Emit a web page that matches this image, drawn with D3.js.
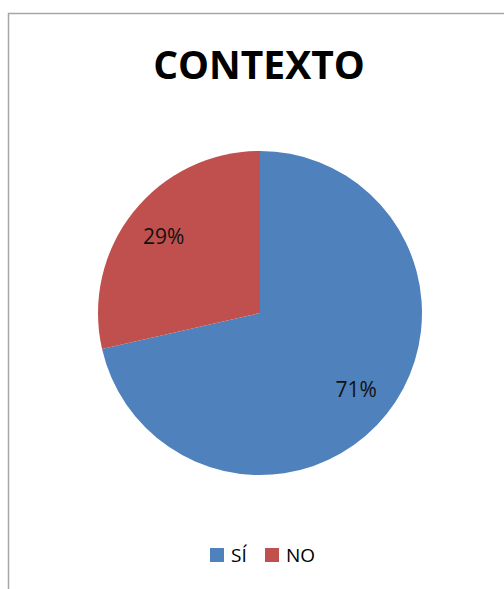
<!DOCTYPE html>
<html><head><meta charset="utf-8">
<script src="https://cdn.jsdelivr.net/npm/d3@7"></script>
<style>body{margin:0;background:#fff}svg{display:block}</style>
</head><body>
<script>
const categories = ["SÍ", "NO"];
const values = [5, 2];
const colors = ["#4F81BD", "#C0504D"];
const title = "CONTEXTO";

const W = 504, H = 589;
const svg = d3.select("body").append("svg").attr("width", W).attr("height", H);
svg.append("rect").attr("width", W).attr("height", H).attr("fill", "#fff");
svg.append("rect").attr("x", 8.5).attr("y", 13.5).attr("width", 520).attr("height", 600)
  .attr("fill", "none").attr("stroke", "#a6a6a6").attr("stroke-width", 1.5);

svg.append("text").attr("x", 259).attr("y", 79).attr("text-anchor", "middle")
  .attr("font-family", "Open Sans").attr("font-weight", "bold").attr("font-size", 39)
  .attr("fill", "#000").text(title);

const cx = 260, cy = 313, r = 162;
const total = d3.sum(values);
const pie = d3.pie().sort(null).value(d => d)(values);
const arc = d3.arc().innerRadius(0).outerRadius(r);
const labelArc = d3.arc().innerRadius(r * 0.76).outerRadius(r * 0.76);
const g = svg.append("g").attr("transform", `translate(${cx},${cy})`);
g.selectAll("path").data(pie).join("path").attr("d", arc).attr("fill", (d, i) => colors[i]);
g.selectAll("text").data(pie).join("text")
  .attr("transform", d => `translate(${labelArc.centroid(d)})`)
  .attr("text-anchor", "middle").attr("dy", "0.36em")
  .attr("font-family", "Open Sans").attr("font-size", 21).attr("fill", "#111")
  .text(d => Math.round(d.data / total * 100) + "%");

const legX = [210, 265];
const leg = svg.append("g");
categories.forEach((c, i) => {
  leg.append("rect").attr("x", legX[i]).attr("y", 548).attr("width", 14).attr("height", 14).attr("fill", colors[i]);
  leg.append("text").attr("x", legX[i] + 21).attr("y", 562).attr("font-family", "Open Sans")
    .attr("font-size", 19).attr("fill", "#000").text(c);
});
</script>
</body></html>
